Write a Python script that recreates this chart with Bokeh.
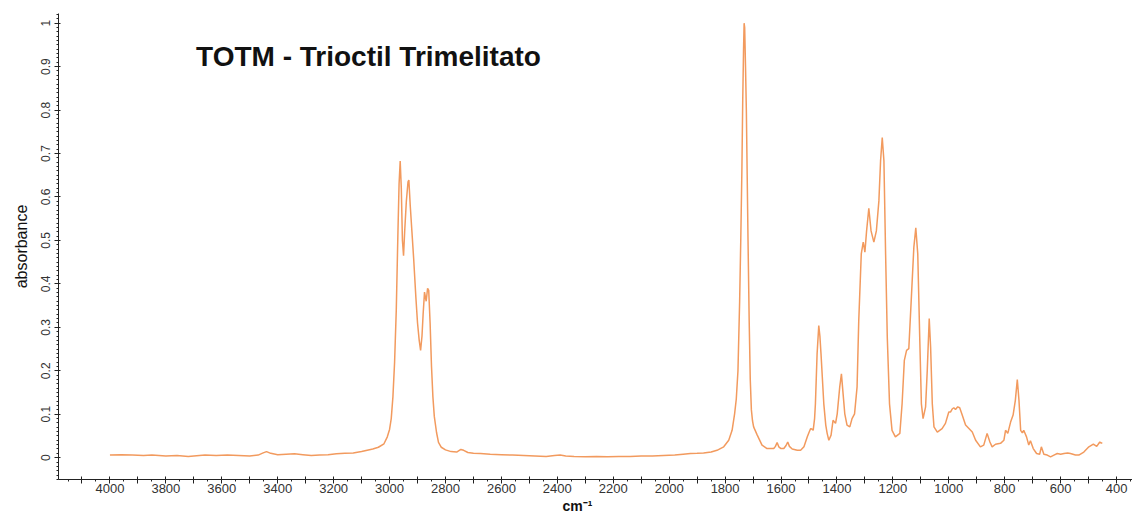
from bokeh.plotting import figure
from bokeh.models import Range1d, SingleIntervalTicker, CustomJSTickFormatter, Label, Title
from bokeh.embed import file_html
from bokeh.resources import INLINE

# ---- data ----
wavenumber = [
    4000, 3960, 3920, 3880, 3850, 3800, 3760, 3720, 3700, 3660, 3620, 3580, 3540, 3500,
    3470, 3452, 3440, 3425, 3400, 3370, 3340, 3310, 3280, 3250, 3220, 3190, 3160, 3130,
    3100, 3080, 3060, 3040, 3020, 3008, 3000, 2994, 2988, 2982, 2976, 2970, 2966, 2962,
    2958, 2954, 2950, 2946, 2940, 2934, 2931, 2926, 2920, 2914, 2906, 2900, 2894, 2889,
    2884, 2880, 2875, 2869, 2864, 2860, 2855, 2850, 2845, 2840, 2832, 2825, 2815, 2800,
    2780, 2760, 2745, 2735, 2720, 2700, 2675, 2640, 2600, 2560, 2520, 2480, 2440, 2410,
    2390, 2370, 2340, 2300, 2260, 2220, 2180, 2140, 2100, 2060, 2020, 1980, 1950, 1924,
    1900, 1877, 1850, 1829, 1805, 1787, 1775, 1766, 1760, 1754, 1748, 1744, 1740, 1737,
    1734, 1732, 1730, 1727, 1724, 1721, 1718, 1714, 1710, 1706, 1702, 1698, 1685, 1668,
    1650, 1626, 1620, 1614, 1608, 1600, 1590, 1582, 1576, 1570, 1560, 1542, 1530, 1518,
    1506, 1500, 1494, 1490, 1485, 1480, 1477, 1471, 1465, 1461, 1457, 1447, 1440, 1435,
    1429, 1421, 1414, 1409, 1405, 1399, 1390, 1384, 1378, 1372, 1364, 1354, 1346, 1337,
    1328, 1322, 1313, 1306, 1303, 1300, 1294, 1286, 1278, 1268, 1259, 1250, 1244, 1238,
    1232, 1226, 1220, 1212, 1203, 1191, 1175, 1167, 1159, 1151, 1143, 1135, 1125, 1118,
    1111, 1104, 1098, 1092, 1083, 1077, 1070, 1065, 1059, 1053, 1041, 1024, 1012, 1000,
    994, 988, 982, 976, 968, 961, 952, 940, 928, 916, 904, 887, 875, 863, 853, 845, 833,
    815, 803, 797, 789, 779, 770, 762, 755, 749, 743, 737, 732, 722, 714, 708, 698, 686,
    675, 669, 660, 648, 636, 624, 612, 600, 588, 575, 565, 547, 535, 517, 499, 483, 471,
    460, 451,
]
absorbance = [
    0.006, 0.007, 0.006, 0.005, 0.006, 0.004, 0.005, 0.003, 0.004, 0.006, 0.005, 0.006, 0.005, 0.004,
    0.006, 0.011, 0.014, 0.010, 0.007, 0.008, 0.009, 0.007, 0.005, 0.006, 0.007, 0.009, 0.010, 0.011,
    0.014, 0.017, 0.020, 0.024, 0.032, 0.048, 0.065, 0.090, 0.140, 0.220, 0.340, 0.520, 0.630, 0.683,
    0.620, 0.500, 0.465, 0.520, 0.590, 0.635, 0.639, 0.580, 0.520, 0.460, 0.370, 0.310, 0.270, 0.247,
    0.280, 0.330, 0.381, 0.360, 0.390, 0.385, 0.310, 0.210, 0.140, 0.095, 0.058, 0.035, 0.024, 0.018,
    0.014, 0.013, 0.019, 0.017, 0.012, 0.010, 0.0096, 0.008, 0.007, 0.006, 0.005, 0.004, 0.003, 0.005,
    0.006, 0.004, 0.003, 0.002, 0.003, 0.002, 0.003, 0.003, 0.004, 0.004, 0.005, 0.006, 0.008, 0.0096,
    0.010, 0.011, 0.013, 0.017, 0.025, 0.040, 0.063, 0.101, 0.135, 0.200, 0.360, 0.500, 0.660, 0.820,
    0.940, 1.000, 0.990, 0.900, 0.800, 0.650, 0.500, 0.320, 0.180, 0.110, 0.085, 0.071, 0.052, 0.029,
    0.021, 0.021, 0.026, 0.035, 0.025, 0.021, 0.021, 0.028, 0.036, 0.026, 0.020, 0.017, 0.017, 0.025,
    0.048, 0.058, 0.067, 0.066, 0.063, 0.090, 0.124, 0.239, 0.304, 0.280, 0.239, 0.124, 0.075, 0.056,
    0.040, 0.052, 0.086, 0.082, 0.079, 0.101, 0.163, 0.193, 0.147, 0.101, 0.075, 0.071, 0.090, 0.101,
    0.163, 0.316, 0.469, 0.496, 0.485, 0.473, 0.522, 0.574, 0.522, 0.496, 0.522, 0.591, 0.683, 0.737,
    0.683, 0.469, 0.277, 0.124, 0.063, 0.048, 0.056, 0.124, 0.224, 0.247, 0.251, 0.354, 0.484, 0.529,
    0.469, 0.277, 0.124, 0.090, 0.117, 0.201, 0.320, 0.254, 0.124, 0.071, 0.059, 0.067, 0.079, 0.105,
    0.105, 0.112, 0.115, 0.111, 0.117, 0.115, 0.098, 0.075, 0.067, 0.059, 0.040, 0.025, 0.029, 0.056, 0.036, 0.025, 0.031,
    0.033, 0.040, 0.063, 0.056, 0.082, 0.098, 0.132, 0.180, 0.132, 0.063, 0.057, 0.063, 0.048, 0.029, 0.039, 0.021, 0.0096,
    0.008, 0.025, 0.008, 0.006, 0.002, 0.006, 0.0096, 0.008, 0.0096, 0.011, 0.0096, 0.006, 0.006, 0.013, 0.025, 0.031, 0.026,
    0.036, 0.033,
]

title_text = "TOTM - Trioctil Trimelitato"
x_label = "cm\u207b\u00b9"
y_label = "absorbance"

FONT = "Liberation Sans"
LINE_COLOR = "#F29A5E"
AXIS_COLOR = "#222222"

p = figure(
    width=1132, height=513,
    output_backend="svg", toolbar_location=None,
    x_range=Range1d(4184, 343), y_range=Range1d(-0.0502, 1.0223),
    min_border_left=58, min_border_right=0, min_border_top=13, min_border_bottom=0,
)
p.background_fill_color = "white"
p.border_fill_color = "white"
p.outline_line_color = None
p.xgrid.visible = False
p.ygrid.visible = False

p.line(wavenumber, absorbance, line_color=LINE_COLOR, line_width=1.5)

# x axis
xa = p.xaxis[0]
xa.ticker = SingleIntervalTicker(interval=100, num_minor_ticks=2)
xa.formatter = CustomJSTickFormatter(code="""
    const t = Math.round(tick);
    return (t % 200 === 0) ? t.toString() : '';
""")
xa.axis_line_color = AXIS_COLOR
xa.major_tick_line_color = AXIS_COLOR
xa.minor_tick_line_color = AXIS_COLOR
xa.major_tick_in = 3
xa.major_tick_out = 4
xa.minor_tick_in = 0
xa.minor_tick_out = 2
xa.major_label_standoff = 0
xa.major_label_text_font = FONT
xa.major_label_text_font_size = "13px"
xa.major_label_text_color = "#333333"

# unit label below the x axis, a little left of centre as in the source
p.add_layout(Title(
    text=x_label, align="left", offset=504, standoff=0,
    text_font=FONT, text_font_style="bold", text_font_size="14px",
    text_color="#111111",
), "below")

# y axis
ya = p.yaxis[0]
ya.ticker = SingleIntervalTicker(interval=0.1, num_minor_ticks=10)
ya.formatter = CustomJSTickFormatter(code="""
    const s = tick.toFixed(1);
    return s.endsWith('.0') ? s.slice(0, -2) : s;
""")
ya.axis_line_color = AXIS_COLOR
ya.major_tick_line_color = AXIS_COLOR
ya.minor_tick_line_color = AXIS_COLOR
ya.major_tick_in = 2
ya.major_tick_out = 4
ya.minor_tick_in = 0
ya.minor_tick_out = 2
ya.major_label_orientation = "parallel"
ya.major_label_standoff = 4
ya.major_label_text_font = FONT
ya.major_label_text_font_size = "12px"
ya.major_label_text_color = "#333333"
ya.axis_label = y_label
ya.axis_label_text_font = FONT
ya.axis_label_text_font_style = "normal"
ya.axis_label_text_font_size = "16px"
ya.axis_label_text_color = "#111111"
ya.axis_label_standoff = 9

# title inside the plot area
p.add_layout(Label(
    x=3692, y=0.923, text=title_text,
    text_font=FONT, text_font_style="bold", text_font_size="28px",
    text_color="#111111", text_baseline="alphabetic", text_align="left",
))

open("out.html", "w").write(file_html(p, INLINE))
